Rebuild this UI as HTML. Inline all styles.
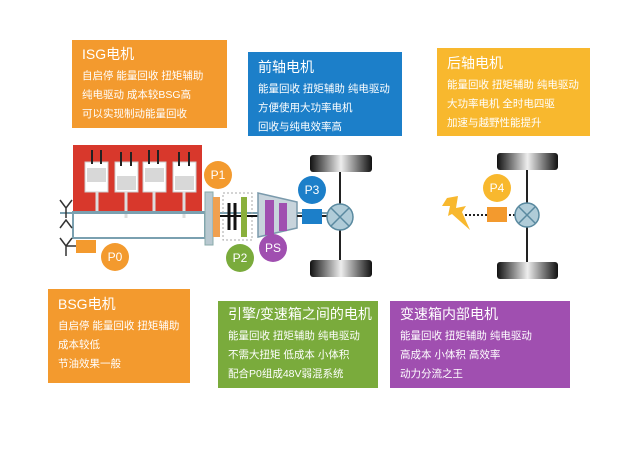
<!DOCTYPE html>
<html><head><meta charset="utf-8"><style>
body{margin:0;background:#fff;width:640px;height:453px;overflow:hidden;position:relative;font-family:"Liberation Sans","Noto Sans CJK SC",sans-serif}
.b{position:absolute;color:#fff;box-sizing:border-box;padding:5px 0 0 10px}
.b h{display:block;font-size:14px;margin-bottom:3px}
.b p{margin:0;font-size:10.5px;line-height:19px;white-space:nowrap}
</style></head><body>
<div class="b" style="left:72px;top:40px;width:155px;height:88px;background:#f39a2e;padding-top:4px"><h>ISG电机</h><p>自启停 能量回收 扭矩辅助</p><p>纯电驱动 成本较BSG高</p><p>可以实现制动能量回收</p></div>
<div class="b" style="left:248px;top:52px;width:154px;height:84px;background:#1c7fc9"><h>前轴电机</h><p>能量回收 扭矩辅助 纯电驱动</p><p>方便使用大功率电机</p><p>回收与纯电效率高</p></div>
<div class="b" style="left:437px;top:48px;width:153px;height:88px;background:#f8b82e"><h>后轴电机</h><p>能量回收 扭矩辅助 纯电驱动</p><p>大功率电机 全时电四驱</p><p>加速与越野性能提升</p></div>
<div class="b" style="left:48px;top:289px;width:142px;height:94px;background:#f39a2e"><h>BSG电机</h><p>自启停 能量回收 扭矩辅助</p><p>成本较低</p><p>节油效果一般</p></div>
<div class="b" style="left:218px;top:301px;width:160px;height:87px;background:#7aab3c;padding-top:3px"><h>引擎/变速箱之间的电机</h><p>能量回收 扭矩辅助 纯电驱动</p><p>不需大扭矩 低成本 小体积</p><p>配合P0组成48V弱混系统</p></div>
<div class="b" style="left:390px;top:301px;width:180px;height:87px;background:#a04fb0;padding-top:3px"><h>变速箱内部电机</h><p>能量回收 扭矩辅助 纯电驱动</p><p>高成本 小体积 高效率</p><p>动力分流之王</p></div>
<svg width="640" height="453" style="position:absolute;left:0;top:0" font-family="Liberation Sans,sans-serif">
<defs><linearGradient id="w" x1="0" x2="1"><stop offset="0" stop-color="#111"/><stop offset=".5" stop-color="#eee"/><stop offset="1" stop-color="#111"/></linearGradient></defs>
<rect x="73" y="145" width="129" height="67" fill="#d8382c"/>
<g fill="#fff" stroke="#ccc">
<rect x="85" y="162" width="23" height="30"/><rect x="115" y="162" width="23" height="30"/><rect x="143" y="162" width="23" height="30"/><rect x="173" y="162" width="23" height="30"/></g>
<g fill="#d8d8d8"><rect x="87" y="168" width="19" height="14"/><rect x="117" y="176" width="19" height="14"/><rect x="145" y="168" width="19" height="14"/><rect x="175" y="176" width="19" height="14"/></g>
<g stroke="#222" stroke-width="2"><path d="M92 150v14M101 150v14M121 152v14M131 152v14M149 150v14M158 150v14M179 152v14M189 152v14"/></g>
<g stroke="#ddd" stroke-width="3"><path d="M97 192v20M126 192v26M154 192v20M184 192v26"/></g>
<rect x="73" y="212" width="132" height="26" fill="none" stroke="#7aa0b0" stroke-width="2"/>
<line x1="60" y1="213" x2="340" y2="213" stroke="#7aa0b0" stroke-width="2"/>
<path d="M60 200l6 8 6-8M66 208v10M60 228l6-8 6 8M60 238l6 8 6-8M66 246v10M66 246h10" stroke="#333" fill="none" stroke-width="1.5"/>
<rect x="76" y="240" width="20" height="13" fill="#f39a2e"/>
<rect x="205" y="192" width="8" height="53" fill="#b8c8d0" stroke="#8aa"/>
<rect x="213" y="197" width="7" height="40" fill="#f0a050"/>
<rect x="223" y="193" width="29" height="47" fill="none" stroke="#aaa" stroke-dasharray="2 2"/>
<path d="M229 203v27M235 203v27" stroke="#111" stroke-width="3"/>
<line x1="220" y1="216" x2="258" y2="216" stroke="#111" stroke-width="2"/>
<rect x="241" y="197" width="6" height="40" fill="#8ab03c"/>
<path d="M258 193L297 202V228L258 237Z" fill="#c8d4dc" stroke="#7a9aac" stroke-width="1.5"/>
<rect x="265" y="200" width="9" height="35" fill="#a04fb0"/><rect x="279" y="203" width="8" height="28" fill="#a04fb0"/>
<line x1="297" y1="216" x2="340" y2="216" stroke="#222" stroke-width="2"/>
<rect x="302" y="209" width="20" height="15" fill="#1c7fc9"/>
<line x1="340" y1="163" x2="340" y2="268" stroke="#222" stroke-width="2"/>
<rect x="310" y="155" width="62" height="17" rx="3" fill="url(#w)"/><rect x="310" y="260" width="62" height="17" rx="3" fill="url(#w)"/>
<circle cx="340" cy="217" r="13" fill="#b0ccd8" stroke="#5a8aa0" stroke-width="1.5"/><path d="M331 208l18 18M349 208l-18 18" stroke="#5a8aa0" stroke-width="1.5"/>
<line x1="527" y1="162" x2="527" y2="266" stroke="#222" stroke-width="2"/>
<rect x="497" y="153" width="61" height="17" rx="3" fill="url(#w)"/><rect x="497" y="262" width="61" height="17" rx="3" fill="url(#w)"/>
<line x1="465" y1="215" x2="515" y2="215" stroke="#222" stroke-width="2" stroke-dasharray="2 2"/>
<rect x="487" y="207" width="20" height="15" fill="#f39a2e"/>
<circle cx="527" cy="215" r="12" fill="#b0ccd8" stroke="#5a8aa0" stroke-width="1.5"/><path d="M519 207l16 16M535 207l-16 16" stroke="#5a8aa0" stroke-width="1.5"/>
<path d="M447 198L458 196L456 208L466 206L462 212L470 230L452 214L448 216L450 206L442 206Z" fill="#f8b82e"/>
<g font-size="12" fill="#fff" text-anchor="middle">
<circle cx="218" cy="175" r="14" fill="#f39a2e"/><text x="218" y="179">P1</text>
<circle cx="312" cy="190" r="14" fill="#1c7fc9"/><text x="312" y="194">P3</text>
<circle cx="240" cy="258" r="14" fill="#7aab3c"/><text x="240" y="262">P2</text>
<circle cx="273" cy="248" r="14" fill="#a04fb0"/><text x="273" y="252">PS</text>
<circle cx="115" cy="257" r="14" fill="#f39a2e"/><text x="115" y="261">P0</text>
<circle cx="497" cy="188" r="14" fill="#f8b82e"/><text x="497" y="192">P4</text>
</g></svg>
</body></html>
